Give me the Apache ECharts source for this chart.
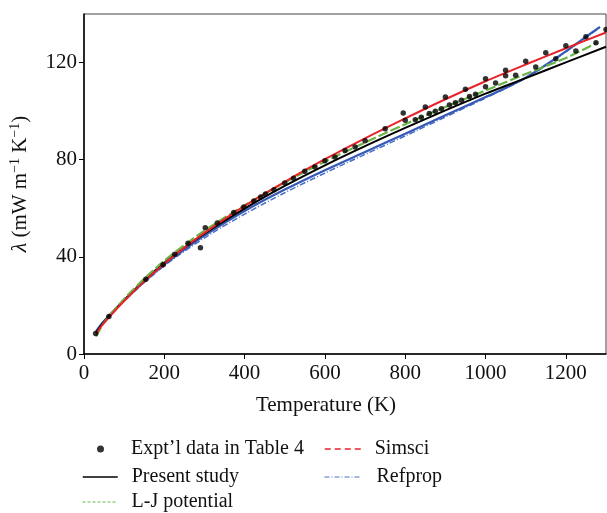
<!DOCTYPE html>
<html>
<head>
<meta charset="utf-8">
<script src="https://cdn.jsdelivr.net/npm/echarts@6/dist/echarts.min.js"></script>
<style>
html,body{margin:0;padding:0;background:#fff;}
#chart{width:607px;height:513px;}
</style>
</head>
<body>
<div id="chart"></div>
<script>
// ---- data ----
var expT = [29, 62, 154, 197, 226, 259, 290, 302, 332, 373, 398, 423, 440, 452, 473, 500, 522, 550, 575, 600, 625, 650, 675, 700, 750, 795, 800, 825, 840, 850, 860, 875, 890, 900, 910, 925, 940, 950, 960, 975, 1000, 1000, 1025, 1050, 1050, 1075, 1100, 1125, 1150, 1175, 1200, 1225, 1250, 1275, 1300];
var expL = [8.4, 15.4, 30.8, 36.7, 41.1, 45.6, 43.8, 52.0, 53.9, 58.3, 60.5, 63.0, 64.6, 65.9, 67.6, 70.4, 72.4, 75.2, 77.0, 79.6, 81.1, 83.8, 85.2, 87.8, 92.7, 99.2, 96.2, 96.5, 97.5, 101.7, 99.0, 100.0, 101.0, 105.8, 102.5, 103.5, 104.5, 109.0, 106.0, 107.0, 113.3, 110.0, 111.6, 116.8, 114.6, 114.8, 120.5, 118.2, 124.0, 121.6, 126.9, 124.8, 130.6, 128.2, 133.6];

var presentT = [30, 50, 100, 150, 200, 250, 300, 400, 500, 600, 700, 800, 900, 1000, 1100, 1200, 1300];
var presentL = [8.8, 13.3, 22.2, 30.3, 37.6, 43.8, 49.6, 59.9, 69.2, 77.7, 85.6, 93.1, 100.3, 107.2, 113.6, 120.1, 126.5];

var simsciT = [30, 50, 100, 150, 200, 250, 300, 400, 500, 600, 700, 800, 900, 1000, 1100, 1200, 1300];
var simsciL = [8.3, 12.8, 21.8, 29.9, 37.2, 43.8, 49.9, 61.0, 70.9, 80.2, 88.8, 97.0, 104.9, 112.3, 119.2, 125.9, 132.4];

var ljT = [30, 50, 100, 150, 200, 250, 300, 400, 500, 600, 700, 800, 900, 1000, 1100, 1200, 1280];
var ljL = [7.2, 12.9, 22.7, 31.0, 38.4, 44.8, 50.8, 61.2, 70.6, 79.2, 87.1, 94.6, 101.7, 108.5, 115.3, 121.9, 128.4];

var blueT = [30, 50, 100, 150, 200, 250, 300, 400, 500, 600, 700, 800, 900, 1000, 1050, 1100, 1150, 1200, 1250, 1285];
var blueL = [9.4, 13.6, 22.0, 29.8, 36.8, 43.0, 48.8, 58.9, 67.7, 75.7, 83.2, 90.7, 98.3, 105.8, 109.5, 113.8, 119.0, 124.6, 130.6, 134.7];

var refpropT = [30, 100, 200, 300, 400, 500, 600, 700, 800, 900, 1000, 1100, 1200, 1285];
var refpropL = [9.2, 21.8, 36.3, 47.8, 57.6, 66.4, 74.5, 82.2, 89.8, 97.6, 105.4, 113.6, 124.4, 134.5];

var xTicks = {min: 0, max: 1300, interval: 200};
var yTicks = {min: 0, max: 140, interval: 40};

function pairs(a, b) { return a.map(function (v, i) { return [v, b[i]]; }); }

var FONT = '"Liberation Serif", "DejaVu Serif", serif';
var chart = echarts.init(document.getElementById('chart'), null, {renderer: 'canvas'});

function legendBox(name, left, top, w, h, pad, extra) {
  var item = Object.assign({name: name}, extra || {});
  return {
    left: left, top: top, padding: 0, orient: 'horizontal',
    itemWidth: w, itemHeight: h, selectedMode: false,
    textStyle: {fontFamily: FONT, fontSize: 20, color: '#111', padding: [0, 0, 0, pad]},
    data: [item]
  };
}
var noSym = {opacity: 0};

var option = {
  backgroundColor: '#fff',
  animation: false,
  grid: {left: 83, right: 1, top: 14, bottom: 159, show: true, borderColor: '#444', borderWidth: 1},
  xAxis: {
    type: 'value', min: xTicks.min, max: xTicks.max, interval: xTicks.interval,
    name: 'Temperature (K)', nameLocation: 'middle', nameGap: 41,
    nameTextStyle: {fontFamily: FONT, fontSize: 21, color: '#111', padding: [0, 38, 0, 0]},
    axisLine: {lineStyle: {color: '#000', width: 1.5}},
    axisTick: {show: true, inside: false, length: 5, lineStyle: {color: '#000'}},
    axisLabel: {fontFamily: FONT, fontSize: 21, color: '#111', margin: 9, showMaxLabel: false,
      formatter: function (v) { return String(v); }},
    splitLine: {show: false}
  },
  yAxis: {
    type: 'value', min: yTicks.min, max: yTicks.max, interval: yTicks.interval,
    name: '{i|λ} (mW m{s|−1} K{s|−1})', nameLocation: 'middle', nameGap: 52,
    nameTextStyle: {
      fontFamily: FONT, fontSize: 21, color: '#111',
      rich: {
        i: {fontFamily: FONT, fontSize: 22, fontStyle: 'italic', color: '#111'},
        s: {fontFamily: FONT, fontSize: 14, color: '#111', verticalAlign: 'top', padding: [0, 0, 10, 0]}
      }
    },
    axisLine: {lineStyle: {color: '#000', width: 1.5}},
    axisTick: {show: true, inside: false, length: 5, lineStyle: {color: '#000'}},
    axisLabel: {fontFamily: FONT, fontSize: 21, color: '#111', margin: 7, showMaxLabel: false},
    splitLine: {show: false}
  },
  legend: [
    legendBox("Expt’l data in Table 4", 97, 439, 7, 7, 22, {icon: 'circle'}),
    legendBox('Present study', 82, 467, 35, 14, 9, {itemStyle: noSym, lineStyle: {width: 1.5}}),
    legendBox('L-J potential', 82, 492, 35, 14, 9, {itemStyle: noSym, lineStyle: {type: [3, 2], width: 1}}),
    legendBox('Simsci', 324, 439, 36, 14, 9, {itemStyle: noSym, lineStyle: {type: [6, 4], width: 1.5}}),
    legendBox('Refprop', 324, 467, 36, 14, 11, {itemStyle: noSym, lineStyle: {type: [5, 2, 1, 2], width: 1}})
  ],
  series: [
    {
      name: 'Refprop', type: 'line', symbol: 'none', smooth: 0.3,
      data: pairs(refpropT, refpropL),
      lineStyle: {color: '#4a6fc4', width: 1.5, type: [6, 2, 1, 2]}, itemStyle: {color: '#4a6fc4'}, z: 2
    },
    {
      name: 'Refprop (solid)', type: 'line', symbol: 'none', smooth: 0.3,
      data: pairs(blueT, blueL),
      lineStyle: {color: '#3559b5', width: 2.2}, itemStyle: {color: '#3559b5'}, z: 3
    },
    {
      name: 'Present study', type: 'line', symbol: 'none', smooth: 0.3,
      data: pairs(presentT, presentL),
      lineStyle: {color: '#000', width: 2}, itemStyle: {color: '#000'}, z: 4
    },
    {
      name: 'L-J potential', type: 'line', symbol: 'none', smooth: 0.3,
      data: pairs(ljT, ljL),
      lineStyle: {color: '#6ab446', width: 2.2, type: [10, 3]}, itemStyle: {color: '#6ab446'}, z: 5
    },
    {
      name: 'Simsci', type: 'line', symbol: 'none', smooth: 0.3,
      data: pairs(simsciT, simsciL),
      lineStyle: {color: '#e8232a', width: 2}, itemStyle: {color: '#e8232a'}, z: 6
    },
    {
      name: "Expt’l data in Table 4", type: 'scatter', symbol: 'circle', symbolSize: 5.5,
      data: pairs(expT, expL),
      itemStyle: {color: '#000'}, z: 7
    }
  ]
};
chart.setOption(option);
</script>
</body>
</html>
